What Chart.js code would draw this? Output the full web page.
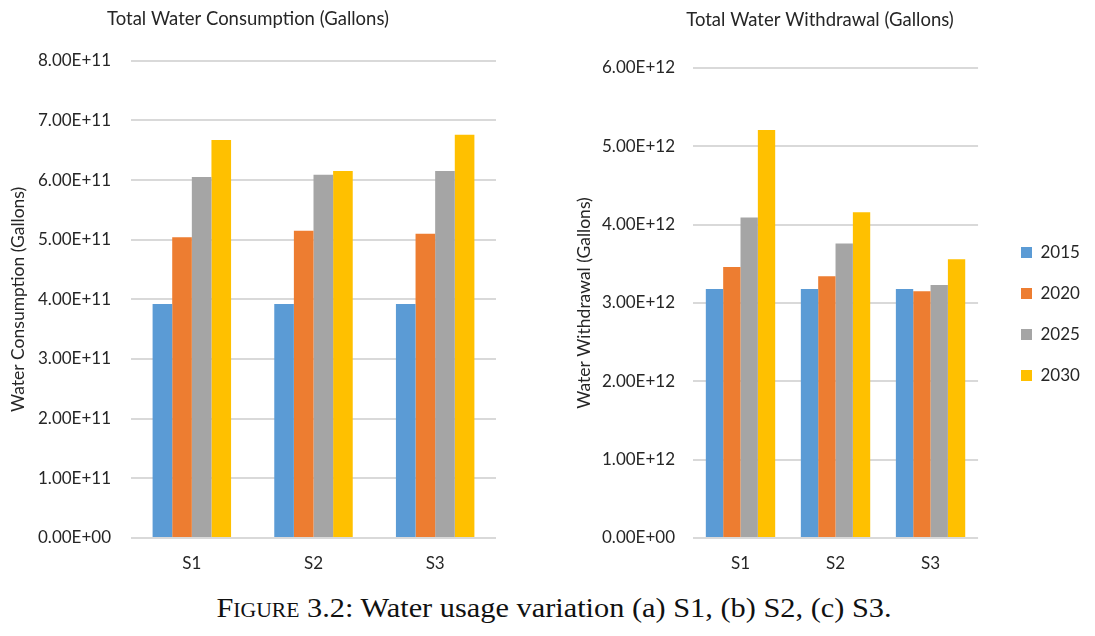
<!DOCTYPE html>
<html>
<head>
<meta charset="utf-8">
<script src="https://cdn.jsdelivr.net/npm/chart.js@4.4.0/dist/chart.umd.min.js"></script>
<style>
  html, body { margin: 0; padding: 0; background: #fff; }
  body { width: 1095px; height: 636px; position: relative; overflow: hidden; }
  #wrapLeft { position: absolute; left: 0; top: 0; width: 496px; height: 580px; }
  #wrapRight { position: absolute; left: 569px; top: 0; width: 526px; height: 580px; }
  #caption {
    position: absolute; left: 0; top: 594px; width: 1108px; text-align: center;
    font-family: "Liberation Serif", serif; font-size: 28px; line-height: 28px; color: #111;
    transform: scaleX(1.084); transform-origin: 554px 0;
  }
  .sc { font-variant: small-caps; }
</style>
</head>
<body>
<div id="wrapLeft"><canvas id="consumption"></canvas></div>
<div id="wrapRight"><canvas id="withdrawal"></canvas></div>
<div id="caption"><span class="sc">Figure</span> 3.2: Water usage variation (a) S1, (b) S2, (c) S3.</div>
<script>
const scenarios = ["S1", "S2", "S3"];
const years = ["2015", "2020", "2025", "2030"];
const colors = ["#5B9BD5", "#ED7D31", "#A5A5A5", "#FFC000"];

// total water consumption (gallons)
const consumption2015 = [3.92e11, 3.92e11, 3.92e11];
const consumption2020 = [5.04e11, 5.15e11, 5.10e11];
const consumption2025 = [6.05e11, 6.09e11, 6.15e11];
const consumption2030 = [6.67e11, 6.15e11, 6.76e11];

// total water withdrawal (gallons)
const withdrawal2015 = [3.18e12, 3.18e12, 3.18e12];
const withdrawal2020 = [3.46e12, 3.34e12, 3.15e12];
const withdrawal2025 = [4.09e12, 3.76e12, 3.23e12];
const withdrawal2030 = [5.21e12, 4.16e12, 3.56e12];

const consumptionTicks = ["0.00E+00", "1.00E+11", "2.00E+11", "3.00E+11", "4.00E+11",
  "5.00E+11", "6.00E+11", "7.00E+11", "8.00E+11"];
const withdrawalTicks = ["0.00E+00", "1.00E+12", "2.00E+12", "3.00E+12", "4.00E+12",
  "5.00E+12", "6.00E+12"];

Chart.defaults.font.family = "Lato";
Chart.defaults.font.size = 17;
Chart.defaults.color = "#262626";

const textColor = "#262626";

function datasets(series, catPct) {
  return series.map((data, i) => ({
    label: years[i],
    data,
    backgroundColor: colors[i],
    categoryPercentage: catPct,
    barPercentage: 1,
  }));
}

// puts the legend where the reference has it
const legendPlacer = {
  id: "legendPlacer",
  afterLayout(chart) {
    const lg = chart.legend;
    if (!lg || !lg.options.display) return;
    lg.left = 428;
    lg.right = lg.left + lg.width;
    lg.top = 220;
    lg.bottom = lg.top + lg.height;
  },
};

function barChart(id, opts) {
  return new Chart(document.getElementById(id), {
    type: "bar",
    data: { labels: scenarios, datasets: datasets(opts.series, opts.catPct) },
    plugins: [legendPlacer],
    options: {
      responsive: true,
      maintainAspectRatio: false,
      animation: false,
      layout: { padding: { left: 0, right: opts.padRight, top: 0, bottom: 0 } },
      scales: {
        x: {
          grid: { display: false },
          border: { display: false },
          ticks: { padding: 7, color: textColor },
          afterFit: (s) => { s.height = 42; },
        },
        y: {
          min: 0,
          max: opts.max,
          ticks: {
            stepSize: opts.step,
            padding: opts.tickPad,
            color: textColor,
            callback: (value, index) => opts.ticks[index],
          },
          grid: { color: "#d9d9d9", lineWidth: 2, drawTicks: false },
          border: { display: false },
          title: {
            display: true,
            text: opts.yTitle,
            color: textColor,
            font: { size: 17.5 },
            padding: { top: opts.yTitlePad, bottom: 0 },
          },
          afterFit: (s) => { s.width = opts.yWidth; },
        },
      },
      plugins: {
        title: {
          display: true,
          text: opts.title,
          color: textColor,
          font: { size: 18.5, weight: "normal" },
          padding: opts.titlePad,
        },
        legend: {
          display: opts.legend,
          position: "right",
          align: "start",
          labels: { boxWidth: 11, boxHeight: 11, padding: 24, color: textColor, font: { size: 17 } },
        },
        tooltip: { enabled: false },
      },
    },
  });
}

barChart("consumption", {
  series: [consumption2015, consumption2020, consumption2025, consumption2030],
  catPct: 0.645,
  max: 8e11,
  step: 1e11,
  ticks: consumptionTicks,
  tickPad: 20,
  yWidth: 131,
  yTitle: "Water Consumption (Gallons)",
  yTitlePad: 7.5,
  title: "Total Water Consumption (Gallons)",
  titlePad: { top: 8, bottom: 30.5 },
  padRight: 0,
  legend: false,
});

barChart("withdrawal", {
  series: [withdrawal2015, withdrawal2020, withdrawal2025, withdrawal2030],
  catPct: 0.73,
  max: 6e12,
  step: 1e12,
  ticks: withdrawalTicks,
  tickPad: 18,
  yWidth: 124,
  yTitle: "Water Withdrawal (Gallons)",
  yTitlePad: 4.5,
  title: "Total Water Withdrawal (Gallons)",
  titlePad: { top: 9, bottom: 36.8 },
  padRight: 24,
  legend: true,
});
</script>
</body>
</html>
